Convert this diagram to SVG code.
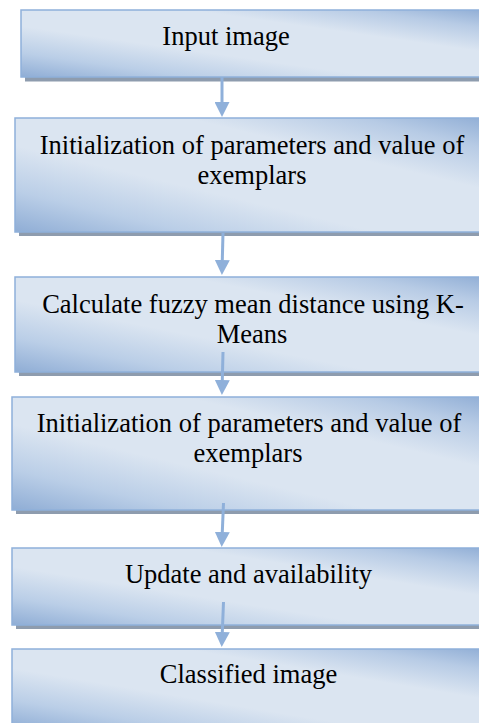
<svg xmlns="http://www.w3.org/2000/svg" width="479" height="723" viewBox="0 0 479 723">
<defs>
<linearGradient id="g" x1="0" y1="1" x2="1" y2="0">
<stop offset="0" stop-color="#8fadd5"/>
<stop offset="0.18" stop-color="#bacee7"/>
<stop offset="0.38" stop-color="#dbe5f1"/>
<stop offset="0.68" stop-color="#dbe5f1"/>
<stop offset="0.86" stop-color="#b7cbe5"/>
<stop offset="1" stop-color="#8fadd5"/>
</linearGradient>
<marker id="ah" markerWidth="15" markerHeight="15" refX="0" refY="7.5" orient="auto" markerUnits="userSpaceOnUse">
<path d="M0,0 L15,7.5 L0,15 Z" fill="#8fb0da"/>
</marker>
</defs>
<style>
.sh{fill:#8e9cae}
.bx{fill:url(#g);stroke:#8fb0da;stroke-width:1.5}
.t{font-size:26.5px;fill:#000;text-anchor:middle}
.c{stroke:#8fb0da;stroke-width:3;fill:none;marker-end:url(#ah)}
</style>
<rect width="479" height="723" fill="#fff"/>
<g id="n1">
<rect class="sh" x="25" y="14" width="470" height="67.5"/>
<rect class="bx" x="21" y="10" width="470" height="67"/>
<text class="t" font-family="Liberation Serif, Times New Roman, serif" x="226" y="45">Input image</text>
</g>
<g id="n2">
<rect class="sh" x="19" y="122" width="476" height="114"/>
<rect class="bx" x="15" y="118" width="476" height="114"/>
<text class="t" font-family="Liberation Serif, Times New Roman, serif" x="252" y="154">Initialization of parameters and value of</text>
<text class="t" font-family="Liberation Serif, Times New Roman, serif" x="252" y="184">exemplars</text>
</g>
<g id="n3">
<rect class="sh" x="19" y="281" width="476" height="95"/>
<rect class="bx" x="15" y="277" width="476" height="95"/>
<text class="t" font-family="Liberation Serif, Times New Roman, serif" x="253" y="313">Calculate fuzzy mean distance using K-</text>
<text class="t" font-family="Liberation Serif, Times New Roman, serif" x="252" y="343">Means</text>
</g>
<g id="n4">
<rect class="sh" x="16" y="401" width="479" height="113"/>
<rect class="bx" x="12" y="397" width="479" height="113"/>
<text class="t" font-family="Liberation Serif, Times New Roman, serif" x="249" y="432">Initialization of parameters and value of</text>
<text class="t" font-family="Liberation Serif, Times New Roman, serif" x="248" y="462">exemplars</text>
</g>
<g id="n5">
<rect class="sh" x="16" y="552" width="479" height="77"/>
<rect class="bx" x="12" y="548" width="479" height="77"/>
<text class="t" font-family="Liberation Serif, Times New Roman, serif" x="248.5" y="583">Update and availability</text>
</g>
<g id="n6">
<rect class="sh" x="16" y="653" width="479" height="80"/>
<rect class="bx" x="12" y="649" width="479" height="80"/>
<text class="t" font-family="Liberation Serif, Times New Roman, serif" x="248.5" y="683">Classified image</text>
</g>
<g id="connectors">
<path class="c" d="M222,77 L222,102"/>
<path class="c" d="M223,233 L222.3,260"/>
<path class="c" d="M223,352 L222.3,380"/>
<path class="c" d="M223.5,503 L222.3,532"/>
<path class="c" d="M223.5,602 L222.3,632"/>
</g>
</svg>
